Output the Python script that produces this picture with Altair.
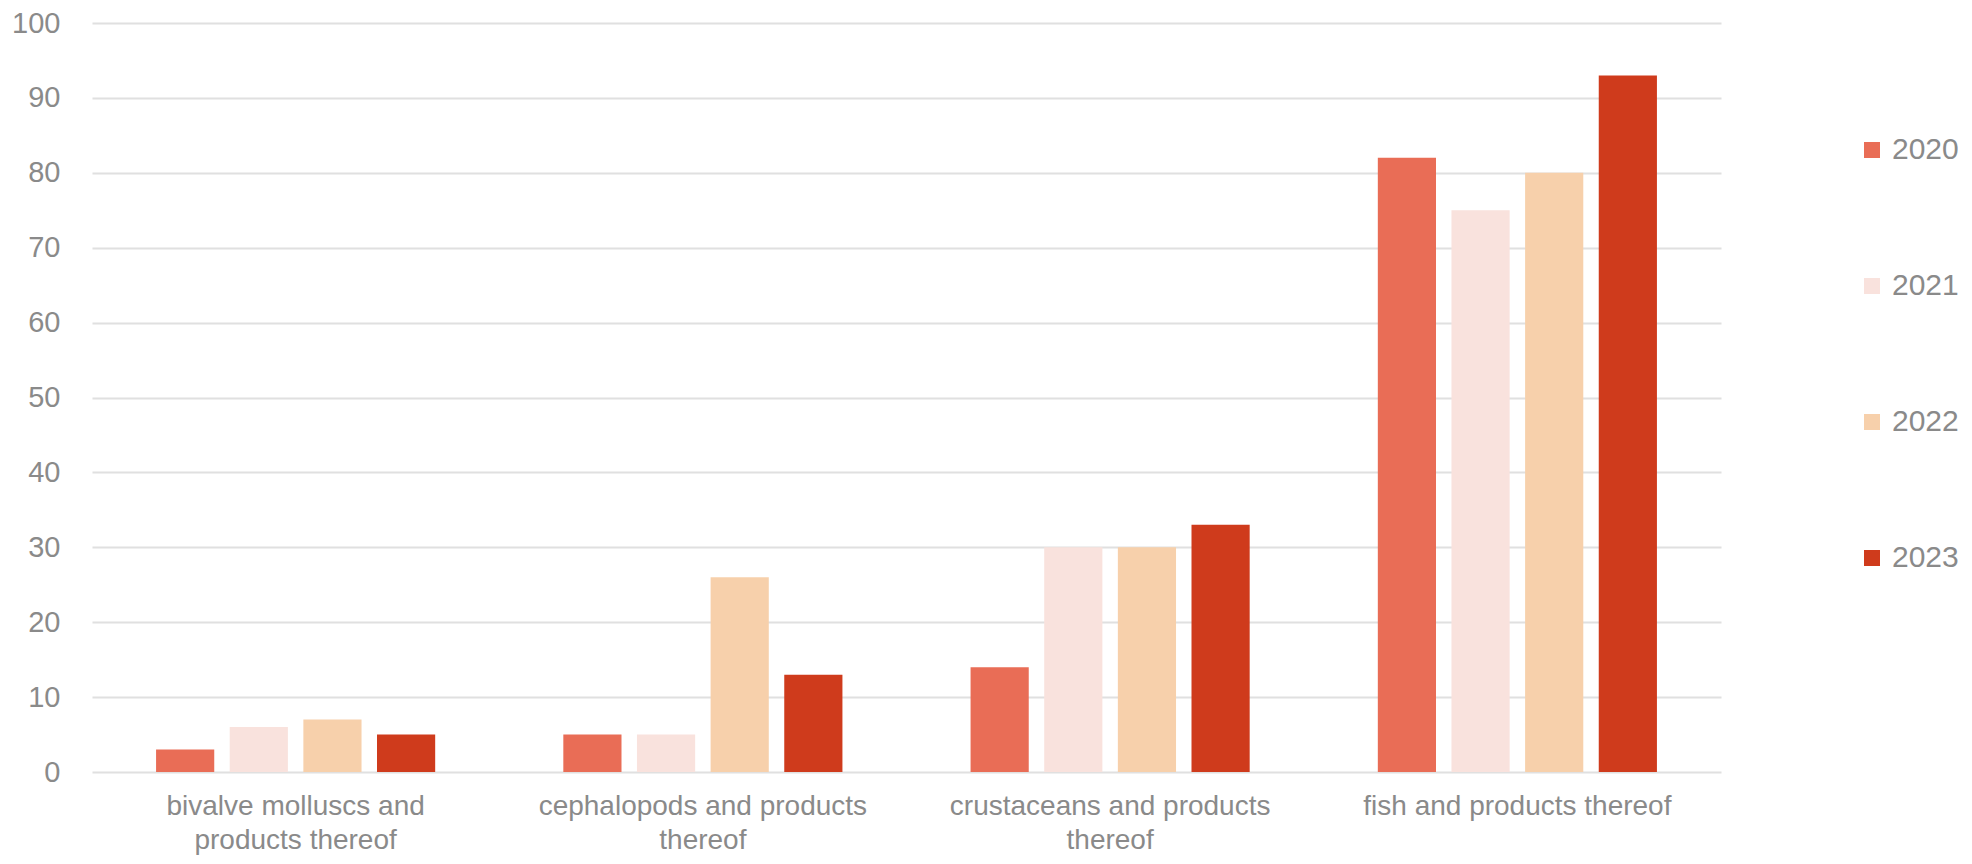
import altair as alt
import pandas as pd

categories = [
    "bivalve molluscs and products thereof",
    "cephalopods and products thereof",
    "crustaceans and products thereof",
    "fish and products thereof",
]
label_lines = [
    ["bivalve molluscs and", "products thereof"],
    ["cephalopods and products", "thereof"],
    ["crustaceans and products", "thereof"],
    ["fish and products thereof"],
]
years = ["2020", "2021", "2022", "2023"]
colors = ["#E96D56", "#F9E2DD", "#F7D0AB", "#CF3B1C"]
values = {
    "2020": [3, 5, 14, 82],
    "2021": [6, 5, 30, 75],
    "2022": [7, 26, 30, 80],
    "2023": [5, 13, 33, 93],
}

rows = []
for y in years:
    for c, v in zip(categories, values[y]):
        rows.append({"category": c, "year": y, "value": v})
df = pd.DataFrame(rows)

expr_parts = []
for c, lines in zip(categories, label_lines):
    arr = "[" + ",".join("'" + l + "'" for l in lines) + "]"
    expr_parts.append(f"datum.value == '{c}' ? {arr} : ")
label_expr = "".join(expr_parts) + "datum.label"

FONT = "Liberation Sans"
GREY = "#8a8a8a"

chart = alt.Chart(df).mark_bar().encode(
    x=alt.X(
        "category:N",
        sort=categories,
        scale=alt.Scale(paddingInner=0, paddingOuter=0),
        axis=alt.Axis(
            title=None,
            labelAngle=0,
            ticks=False,
            domain=False,
            labelExpr=label_expr,
            labelFont=FONT,
            labelFontSize=28,
            labelColor=GREY,
            labelPadding=20,
            labelLineHeight=34,
            labelBaseline="top",
            labelLimit=0,
        ),
    ),
    xOffset=alt.XOffset(
        "year:N",
        sort=years,
        scale=alt.Scale(paddingInner=0.21, paddingOuter=0.87),
    ),
    y=alt.Y(
        "value:Q",
        scale=alt.Scale(domain=[0, 100]),
        axis=alt.Axis(
            title=None,
            values=list(range(0, 101, 10)),
            ticks=False,
            domain=False,
            labelFont=FONT,
            labelFontSize=29,
            labelColor=GREY,
            labelPadding=32,
            gridColor="#e0e0e0",
            gridWidth=2,
        ),
    ),
    color=alt.Color(
        "year:N",
        sort=years,
        scale=alt.Scale(domain=years, range=colors),
        legend=alt.Legend(
            title=None,
            orient="none",
            legendX=1765,
            legendY=112,
            symbolType="square",
            symbolSize=256,
            symbolStrokeWidth=0,
            labelFont=FONT,
            labelFontSize=30,
            labelColor=GREY,
            labelOffset=5,
            labelLimit=0,
            rowPadding=106,
            padding=0,
        ),
    ),
).properties(
    width=1629,
    height=749,
    autosize=alt.AutoSizeParams(type="none"),
    padding={"left": 84, "top": 15, "right": 243, "bottom": 84},
).configure_view(stroke=None).configure_legend(symbolOpacity=1)

chart.save("out.html", embed_options={"renderer": "svg", "actions": False})
